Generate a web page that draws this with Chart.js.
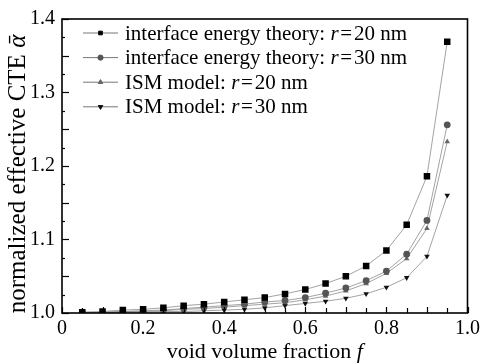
<!DOCTYPE html>
<html lang="en">
<head>
    <meta charset="UTF-8">
    <script src="https://cdn.jsdelivr.net/npm/chart.js"></script>
    <title>CTE vs void volume fraction</title>
    <style>
        html, body { margin: 0; padding: 0; background: #fff; }
        .wrap { width: 484px; height: 364px; }
    </style>
</head>
<body>
    <div class="wrap">
        <canvas id="myChart" width="484" height="364"></canvas>
    </div>

<script>
    // void volume fraction f
    const fraction = [0.05, 0.10, 0.15, 0.20, 0.25, 0.30, 0.35, 0.40, 0.45, 0.50,
                      0.55, 0.60, 0.65, 0.70, 0.75, 0.80, 0.85, 0.90, 0.95];

    // normalized effective CTE
    const ieR20 = [1.001, 1.002, 1.004, 1.005, 1.007, 1.010, 1.012, 1.015, 1.018, 1.021,
                   1.026, 1.032, 1.040, 1.050, 1.064, 1.085, 1.120, 1.186, 1.369];
    const ieR30 = [1.001, 1.001, 1.002, 1.003, 1.004, 1.006, 1.008, 1.010, 1.012, 1.015,
                   1.017, 1.021, 1.027, 1.034, 1.044, 1.057, 1.080, 1.126, 1.256];
    const ismR20 = [1.000, 1.001, 1.002, 1.002, 1.003, 1.005, 1.006, 1.008, 1.010, 1.012,
                    1.014, 1.018, 1.023, 1.030, 1.040, 1.054, 1.074, 1.115, 1.233];
    const ismR30 = [1.000, 1.000, 1.001, 1.001, 1.002, 1.002, 1.003, 1.004, 1.005, 1.007,
                    1.010, 1.013, 1.016, 1.020, 1.026, 1.035, 1.048, 1.077, 1.160];

    const seriesLabels = [
        'interface energy theory: r=20 nm',
        'interface energy theory: r=30 nm',
        'ISM model: r=20 nm',
        'ISM model: r=30 nm'
    ];

    const xTicks = [0, 0.2, 0.4, 0.6, 0.8, 1.0];
    const yTicks = [1.0, 1.1, 1.2, 1.3, 1.4];

    const serif = '"Liberation Serif", "DejaVu Serif", serif';

    function pts(ys) {
        return fraction.map((f, i) => ({ x: f, y: ys[i] }));
    }

    // escreve texto com partes em italico
    function drawRich(ctx, parts, x, y, size, align) {
        let total = 0;
        parts.forEach(p => {
            ctx.font = (p.i ? 'italic ' : '') + size + 'px ' + serif;
            p.w = ctx.measureText(p.t).width;
            total += p.w;
        });
        let cx = align === 'center' ? x - total / 2 : x;
        ctx.textAlign = 'left';
        parts.forEach(p => {
            ctx.font = (p.i ? 'italic ' : '') + size + 'px ' + serif;
            ctx.fillText(p.t, cx, y);
            cx += p.w;
        });
    }

    // "r" em italico e um pouco de espaco em volta do "="
    function labelParts(label) {
        return label.split(/(r)(?==)/).filter(s => s.length).map(s => ({
            t: s === 'r' ? s : s.replace('=', '\u200A=\u200A'),
            i: s === 'r'
        }));
    }

    const framePlugin = {
        id: 'frame',
        afterDraw(chart) {
            const ctx = chart.ctx;
            const a = chart.chartArea;
            const xs = chart.scales.x;
            const ys = chart.scales.y;
            ctx.save();
            ctx.strokeStyle = '#000';
            ctx.fillStyle = '#000';

            // ticks para dentro
            ctx.lineWidth = 1.2;
            for (let i = 0; i <= 16; i++) {
                const py = Math.round(ys.getPixelForValue(1 + i * 0.025)) + 0.5;
                const len = i % 2 === 0 ? 7 : 3;
                ctx.beginPath();
                ctx.moveTo(a.left, py);
                ctx.lineTo(a.left + len, py);
                ctx.stroke();
            }
            for (let i = 0; i <= 20; i++) {
                const px = Math.round(xs.getPixelForValue(i * 0.05)) + 0.5;
                const len = i % 2 === 0 ? 6 : 5;
                ctx.beginPath();
                ctx.moveTo(px, a.bottom);
                ctx.lineTo(px, a.bottom - len);
                ctx.stroke();
            }

            // moldura
            ctx.lineWidth = 1.6;
            ctx.strokeRect(a.left, a.top, a.right - a.left, a.bottom - a.top);

            // legenda
            ctx.textBaseline = 'middle';
            chart.data.datasets.forEach((ds, i) => {
                const ly = 33 + i * 24.6;
                ctx.strokeStyle = '#777';
                ctx.lineWidth = 1;
                ctx.beginPath();
                ctx.moveTo(83, ly);
                ctx.lineTo(118, ly);
                ctx.stroke();
                ctx.fillStyle = ds.pointBackgroundColor;
                ctx.strokeStyle = ds.pointBorderColor;
                Chart.helpers.drawPoint(ctx, {
                    pointStyle: ds.pointStyle,
                    radius: 2.6,
                    rotation: ds.pointRotation || 0,
                    borderWidth: 1
                }, 100.5, ly);
                ctx.fillStyle = '#000';
                drawRich(ctx, labelParts(seriesLabels[i]), 125, ly + 1, 21, 'left');
            });

            // titulos dos eixos
            ctx.fillStyle = '#000';
            ctx.textBaseline = 'alphabetic';
            drawRich(ctx, [{ t: 'void volume fraction ', i: false }, { t: 'f', i: true }],
                (a.left + a.right) / 2, 358, 22, 'center');

            ctx.translate(25, 174);
            ctx.rotate(-Math.PI / 2);
            drawRich(ctx, [{ t: 'normalized effective CTE ', i: false }, { t: '\u1FB1', i: true }],
                0, 0, 25, 'center');
            ctx.restore();
        }
    };

    const tickFont = { family: serif, size: 20 };

    const ctx = document.getElementById('myChart').getContext('2d');
    const myChart = new Chart(ctx, {
        type: 'scatter',
        data: {
            datasets: [
                {
                    label: seriesLabels[0],
                    data: pts(ieR20),
                    showLine: true,
                    borderColor: '#8c8c8c',
                    borderWidth: 0.8,
                    pointStyle: 'rect',
                    pointRadius: 4.6,
                    pointBackgroundColor: '#000',
                    pointBorderColor: '#000',
                    pointBorderWidth: 0
                },
                {
                    label: seriesLabels[1],
                    data: pts(ieR30),
                    showLine: true,
                    borderColor: '#8c8c8c',
                    borderWidth: 0.8,
                    pointStyle: 'circle',
                    pointRadius: 3.4,
                    pointBackgroundColor: '#555',
                    pointBorderColor: '#555',
                    pointBorderWidth: 0
                },
                {
                    label: seriesLabels[2],
                    data: pts(ismR20),
                    showLine: true,
                    borderColor: '#8c8c8c',
                    borderWidth: 0.8,
                    pointStyle: 'triangle',
                    pointRadius: 3.2,
                    pointBackgroundColor: '#666',
                    pointBorderColor: '#666',
                    pointBorderWidth: 0
                },
                {
                    label: seriesLabels[3],
                    data: pts(ismR30),
                    showLine: true,
                    borderColor: '#8c8c8c',
                    borderWidth: 0.8,
                    pointStyle: 'triangle',
                    pointRotation: 180,
                    pointRadius: 3.2,
                    pointBackgroundColor: '#111',
                    pointBorderColor: '#111',
                    pointBorderWidth: 0
                }
            ]
        },
        options: {
            responsive: false,
            animation: false,
            layout: { padding: { top: 13, right: 13, left: 0, bottom: 0 } },
            plugins: {
                legend: { display: false },
                tooltip: { enabled: false }
            },
            scales: {
                x: {
                    type: 'linear',
                    min: 0,
                    max: 1,
                    afterBuildTicks: s => { s.ticks = xTicks.map(v => ({ value: v })); },
                    afterFit: s => { s.height = 51; },
                    grid: { display: false, drawTicks: false },
                    border: { display: false },
                    ticks: {
                        color: '#000',
                        font: tickFont,
                        padding: 4,
                        maxRotation: 0,
                        callback: v => v === 0 ? '0' : v.toFixed(1)
                    }
                },
                y: {
                    min: 1.0,
                    max: 1.4,
                    afterBuildTicks: s => { s.ticks = yTicks.map(v => ({ value: v })); },
                    afterFit: s => { s.width = 62; },
                    grid: { display: false, drawTicks: false },
                    border: { display: false },
                    ticks: {
                        color: '#000',
                        font: tickFont,
                        padding: 7,
                        callback: v => v.toFixed(1)
                    }
                }
            }
        },
        plugins: [framePlugin]
    });
</script>
</body>
</html>
